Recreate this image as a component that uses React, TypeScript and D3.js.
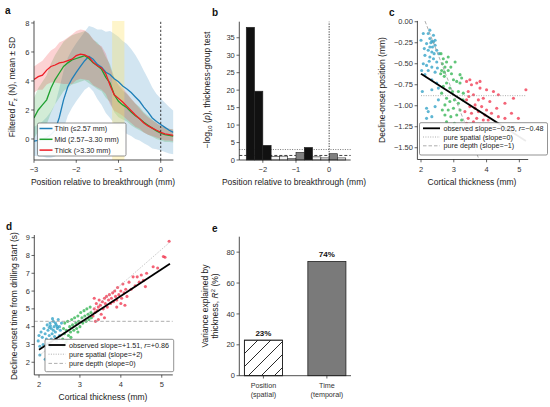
import React from 'react';
import * as d3 from 'd3';

const W = 550, H = 407;
const FONT = "'Liberation Sans', Arial, Helvetica, sans-serif";
const INK = '#222';

// ---------- Panel a: force profiles ----------
const posGrid = [-3.0,-2.9,-2.8,-2.7,-2.6,-2.5,-2.4,-2.3,-2.2,-2.1,-2.0,-1.9,-1.8,-1.7,-1.6,-1.5,-1.4,-1.3,-1.2,-1.1,-1.0,-0.9,-0.8,-0.7,-0.6,-0.5,-0.4,-0.3,-0.2,-0.1,0.0,0.1,0.2,0.3];
const thinMean = [-0.15,-0.1,0.0,0.1,0.3,0.6,1.5,2.7,3.6,4.15,4.6,5.0,5.4,5.7,5.5,5.15,4.95,4.6,4.45,4.15,3.95,3.65,3.45,3.2,2.9,2.6,2.2,1.85,1.45,1.2,1.0,0.8,0.6,0.45];
const thinSD = [1.0,1.1,1.2,1.4,1.6,1.8,2.0,2.0,2.0,2.0,2.0,2.0,2.0,2.1,2.2,2.4,2.6,2.8,3.0,3.1,3.1,3.1,3.1,3.0,2.9,2.7,2.5,2.3,2.1,1.9,1.8,1.7,1.6,1.5];
const midMean = [1.45,2.0,2.35,2.7,3.5,4.1,4.55,5.0,5.25,5.45,5.55,5.65,5.75,5.55,5.25,5.05,4.8,4.25,3.85,3.05,2.6,2.35,2.15,1.85,1.6,1.4,1.15,0.95,0.75,0.55,0.4,0.3,0.25,0.2];
const midSD = [1.4,1.5,1.6,1.7,1.7,1.7,1.7,1.7,1.7,1.7,1.7,1.7,1.7,1.7,1.6,1.6,1.5,1.4,1.3,1.2,1.1,1.0,0.95,0.9,0.85,0.8,0.7,0.65,0.6,0.55,0.5,0.5,0.45,0.45];
const thickMean = [4.1,4.3,4.4,4.75,5.0,5.1,5.25,5.3,5.4,5.5,5.75,5.85,5.8,5.65,5.3,5.05,4.9,4.5,3.7,3.05,2.8,2.55,2.25,1.95,1.65,1.4,1.1,0.9,0.75,0.6,0.45,0.35,0.3,0.25];
const thickSD = [0.9,0.9,1.0,1.0,1.1,1.2,1.4,1.5,1.6,1.7,1.7,1.7,1.7,1.6,1.6,1.5,1.5,1.4,1.3,1.1,1.0,0.95,0.9,0.85,0.8,0.7,0.65,0.6,0.55,0.5,0.45,0.45,0.4,0.4];
const groupNames = ['Thin (≤2.57 mm)', 'Mid (2.57–3.30 mm)', 'Thick (>3.30 mm)'];
const lineColors = ['#1f7fb8', '#1fa030', '#ee1c25'];
const dotColors = ['#2a9dc4', '#2bb24c', '#f0304a'];
const spanA = [-1.15, -0.86];

// ---------- Panel b: p-values per bin ----------
const binLeft = [-2.5,-2.25,-2.0,-1.75,-1.5,-1.25,-1.0,-0.75,-0.5,-0.25,0.0,0.25];
const binWidth = 0.25;
const negLogP = [38, 19.7, 4.2, 0.95, 1.1, 0.4, 2.2, 3.6, 0.9, 0.6, 1.8, 0.6];
const pThresholds = [1.3, 3.0];

// ---------- Panel c: decline-onset position vs thickness ----------
const cThin = [[2.0,-0.22],[2.07,-0.14],[2.22,-0.14],[2.27,-0.2],[2.33,-0.23],[2.38,-0.24],[2.17,-0.26],[2.43,-0.28],[2.1,-0.32],[2.22,-0.34],[2.33,-0.36],[2.48,-0.34],[2.12,-0.4],[2.27,-0.42],[2.38,-0.44],[2.48,-0.48],[2.07,-0.5],[2.17,-0.52],[2.33,-0.54],[2.02,-0.58],[2.22,-0.58],[2.43,-0.6],[2.12,-0.63],[2.33,-0.69],[2.48,-0.73],[2.04,-0.83],[2.33,-0.81],[2.53,-0.79],[2.17,-1.03],[2.22,-1.07],[2.33,-1.13],[2.17,-1.15],[2.43,-1.01],[2.53,-0.93],[2.27,-0.3],[2.55,-0.38],[2.38,-0.16],[2.43,-0.22],[2.27,-0.1],[2.3,-0.25],[2.35,-0.3],[2.25,-0.47],[2.4,-0.38],[2.5,-0.55]];
const cMid = [[2.61,-0.38],[2.68,-0.44],[2.65,-0.5],[2.73,-0.54],[2.78,-0.48],[2.63,-0.58],[2.71,-0.6],[2.83,-0.58],[2.93,-0.62],[3.04,-0.48],[2.99,-0.69],[3.09,-0.71],[3.19,-0.73],[3.24,-0.67],[2.78,-0.73],[2.68,-0.77],[2.88,-0.79],[2.96,-0.83],[3.14,-0.83],[3.29,-0.85],[2.63,-0.85],[2.78,-0.91],[2.88,-0.95],[3.02,-0.93],[3.14,-0.97],[2.73,-0.99],[2.65,-1.05],[2.83,-1.05],[2.99,-1.03],[3.19,-1.05],[2.73,-1.11],[2.91,-1.13],[3.09,-1.11],[2.78,-1.19],[3.02,-1.21],[3.24,-1.17],[2.86,-1.25],[3.09,-1.27],[2.71,-0.65],[2.83,-0.42],[2.91,-0.54],[3.19,-0.63],[3.28,-0.93],[2.6,-0.62],[2.95,-1.3],[3.2,-1.35]];
const cThick = [[3.39,-0.71],[3.49,-0.69],[3.54,-0.75],[3.7,-0.73],[3.8,-0.79],[4.0,-0.81],[4.21,-0.83],[4.36,-0.87],[4.82,-0.91],[5.2,-0.81],[3.44,-0.83],[3.6,-0.87],[3.39,-0.93],[3.75,-0.93],[3.9,-0.91],[4.1,-0.95],[4.56,-0.97],[3.49,-1.01],[3.65,-0.99],[3.85,-1.01],[4.0,-1.05],[4.31,-1.03],[3.34,-1.07],[3.54,-1.09],[3.75,-1.07],[3.95,-1.11],[4.15,-1.09],[3.44,-1.15],[3.7,-1.15],[3.9,-1.17],[3.39,-1.21],[3.6,-1.19],[3.8,-1.23],[3.65,-1.03],[3.46,-0.89],[3.8,-0.71],[4.05,-1.17],[4.56,-1.15],[4.76,-1.09],[4.97,-1.15],[4.36,-1.13],[3.65,-1.29]];
const cObserved = { x0: 2.0, y0: -0.62, slope: -0.25 };
const cMeanY = -0.88;
const cDepth = { x0: 2.13, y0: 0.0, slope: -1 };
const cLegend = ['observed slope=−0.25, ', 'pure spatial (slope=0)', 'pure depth (slope=−1)'];

// ---------- Panel d: decline-onset time vs thickness ----------
const dThin = [[2.0,3.5],[1.98,3.2],[2.02,2.9],[2.05,3.7],[2.08,3.4],[2.1,3.0],[2.12,3.9],[2.15,3.6],[2.18,3.3],[2.2,4.1],[2.22,3.8],[2.25,3.5],[2.27,4.2],[2.3,3.9],[2.32,3.6],[2.35,4.3],[2.37,4.0],[2.4,3.7],[2.42,4.1],[2.45,3.9],[2.47,4.4],[2.5,4.0],[2.52,3.8],[2.55,4.2],[2.3,3.3],[2.38,3.45],[2.2,3.1],[2.15,2.17],[2.02,2.41],[2.27,2.88],[2.43,3.2],[2.5,3.5],[2.33,4.45],[2.4,4.2],[2.45,4.0],[2.28,4.05],[2.35,3.8],[2.25,3.95]];
const dMid = [[2.58,3.3],[2.6,3.9],[2.62,3.6],[2.63,4.2],[2.65,3.1],[2.67,3.8],[2.7,4.3],[2.72,3.5],[2.75,4.0],[2.77,3.7],[2.8,4.4],[2.82,4.1],[2.85,3.8],[2.87,4.5],[2.9,4.2],[2.92,3.9],[2.95,4.6],[2.97,4.3],[3.0,4.0],[3.02,4.8],[3.05,4.5],[3.07,4.2],[3.1,4.9],[3.12,4.6],[3.15,4.3],[3.17,5.0],[3.2,4.7],[3.22,4.4],[3.25,5.1],[3.27,4.8],[3.28,4.5],[2.68,3.2],[2.6,2.9],[2.78,3.4],[2.95,3.7]];
const dThick = [[3.32,4.6],[3.35,5.0],[3.37,4.8],[3.4,5.3],[3.42,4.9],[3.45,5.1],[3.47,5.5],[3.5,5.2],[3.52,4.7],[3.55,5.4],[3.57,5.0],[3.6,5.6],[3.62,5.3],[3.65,5.7],[3.67,5.1],[3.7,5.5],[3.72,5.8],[3.75,5.3],[3.77,5.6],[3.8,5.9],[3.82,5.4],[3.85,6.0],[3.87,5.7],[3.9,5.5],[3.92,6.2],[3.95,5.8],[4.0,6.0],[4.02,5.6],[4.05,6.4],[4.08,5.9],[4.1,5.2],[4.12,6.1],[4.15,5.7],[4.2,6.5],[4.25,6.1],[4.3,6.8],[4.35,6.3],[4.4,6.8],[4.45,6.5],[4.5,6.9],[4.55,6.6],[4.6,6.25],[4.63,7.0],[4.79,7.37],[4.9,7.3],[5.04,7.94],[5.08,7.9],[5.18,8.8],[3.45,4.4],[3.6,4.5],[3.38,4.3],[3.35,5.6],[3.9,5.1],[4.0,5.3]];
const dObserved = { x0: 2.0, y0: 2.7, slope: 1.51 };
const dSpatial = { x0: 5.2, y0: 8.75, slope: 2 };
const dMeanY = 4.3;
const dLegend = ['observed slope=+1.51, ', 'pure spatial (slope=+2)', 'pure depth (slope=0)'];
const cR = '−0.48';
const dR = '+0.86';

// ---------- Panel e: variance explained ----------
const r2Cats = [['Position', '(spatial)'], ['Time', '(temporal)']];
const r2Values = [23, 74];

const fmt = (v: number, dec = 0) => (v < 0 ? '−' : '') + Math.abs(v).toFixed(dec);

type Scale = d3.ScaleLinear<number, number>;
const TICK_FS = 7.5;

function Axes({ x, y, xTicks, yTicks, xDec = 0, yDec = 0 }: { x: Scale; y: Scale; xTicks: number[]; yTicks: number[]; xDec?: number; yDec?: number }) {
  const [x0, x1] = x.range();
  const [y0, y1] = y.range();
  return (
    <g stroke={INK} fontSize={TICK_FS} fontFamily={FONT}>
      <line x1={x0} x2={x0} y1={y0} y2={y1} strokeWidth={0.8} />
      <line x1={x0} x2={x1} y1={y0} y2={y0} strokeWidth={0.8} />
      {yTicks.map((t) => (
        <g key={'y' + t}>
          <line x1={x0 - 2.8} x2={x0} y1={y(t)} y2={y(t)} strokeWidth={0.7} />
          <text x={x0 - 4.5} y={y(t)} dy="0.35em" textAnchor="end" stroke="none" fill="#333">{fmt(t, yDec)}</text>
        </g>
      ))}
      {xTicks.map((t) => (
        <g key={'x' + t}>
          <line x1={x(t)} x2={x(t)} y1={y0} y2={y0 + 2.8} strokeWidth={0.7} />
          <text x={x(t)} y={y0 + 12.3} textAnchor="middle" stroke="none" fill="#333">{fmt(t, xDec)}</text>
        </g>
      ))}
    </g>
  );
}

function RotLabel({ cx, cy, children, size = 8.5 }: { cx: number; cy: number; children: React.ReactNode; size?: number }) {
  return (
    <text transform={`translate(${cx + size * 0.35},${cy}) rotate(-90)`} textAnchor="middle" fontSize={size} fontFamily={FONT} fill="#222">{children}</text>
  );
}

function PanelLetter({ x, y, t }: { x: number; y: number; t: string }) {
  return <text x={x} y={y} fontSize={10} fontWeight="bold" fontFamily={FONT} fill="#111">{t}</text>;
}

function PanelA() {
  const x = d3.scaleLinear().domain([-3, 0.3]).range([34, 173.4]);
  const y = d3.scaleLinear().domain([-1.45, 8.15]).range([160, 20.8]);
  const means = [thinMean, midMean, thickMean];
  const sds = [thinSD, midSD, thickSD];
  const area = (m: number[], s: number[]) =>
    d3.area<number>().x((_, i) => x(posGrid[i])).y0((_, i) => y(m[i] - s[i])).y1((_, i) => y(m[i] + s[i]))(m) || '';
  const line = (m: number[]) => d3.line<number>().x((_, i) => x(posGrid[i])).y((v) => y(v))(m) || '';
  const [xl, xr] = x.range();
  const [yb, yt] = y.range();
  return (
    <g>
      <defs>
        <clipPath id="clipA"><rect x={xl} y={yt} width={xr - xl} height={yb - yt} /></clipPath>
      </defs>
      <g clipPath="url(#clipA)">
        {means.map((m, i) => (
          <path key={'b' + i} d={area(m, sds[i])} fill={lineColors[i]} fillOpacity={0.2} stroke="none" />
        ))}
        <rect x={x(spanA[0])} y={yt} width={x(spanA[1]) - x(spanA[0])} height={yb - yt} fill="#fbe36a" fillOpacity={0.35} />
        {means.map((m, i) => (
          <path key={'l' + i} d={line(m)} fill="none" stroke={lineColors[i]} strokeWidth={1.3} />
        ))}
      </g>
      <line x1={x(0)} x2={x(0)} y1={yb} y2={yt} stroke="#111" strokeWidth={0.8} strokeDasharray="2.2,1.8" />
      <Axes x={x} y={y} xTicks={[-3, -2, -1, 0]} yTicks={[0, 2, 4, 6, 8]} />
      <g fontFamily={FONT} fontSize={7.2}>
        <rect x={37.5} y={123} width={88.5} height={33} fill="#fff" fillOpacity={0.92} stroke="#666" strokeWidth={0.7} rx={1.5} />
        {groupNames.map((n, i) => (
          <g key={n}>
            <line x1={39.5} x2={52.5} y1={128.5 + i * 10.8} y2={128.5 + i * 10.8} stroke={lineColors[i]} strokeWidth={1.5} />
            <text x={54.5} y={128.5 + i * 10.8} dy="0.35em" fill="#222">{n}</text>
          </g>
        ))}
      </g>
      <RotLabel cx={12.5} cy={87}>
        Filtered <tspan fontStyle="italic">F</tspan><tspan fontSize={6} dy={2}>z</tspan><tspan dy={-2}> (N), mean ± SD</tspan>
      </RotLabel>
      <text x={103} y={185} textAnchor="middle" fontSize={8.5} fontFamily={FONT} fill="#222">Position relative to breakthrough (mm)</text>
      <PanelLetter x={5} y={14} t="a" />
    </g>
  );
}

function PanelB() {
  const x = d3.scaleLinear().domain([-2.71, 0.65]).range([239.3, 350.7]);
  const y = d3.scaleLinear().domain([0, 39.6]).range([160, 21.7]);
  const [xl, xr] = x.range();
  const [yb, yt] = y.range();
  const barFill = (v: number) => (v > pThresholds[1] ? '#111' : v > pThresholds[0] ? '#808080' : '#f2f2f2');
  return (
    <g>
      <line x1={xl} x2={xr} y1={y(pThresholds[1])} y2={y(pThresholds[1])} stroke="#555" strokeWidth={0.8} strokeDasharray="1,1.4" />
      <line x1={xl} x2={xr} y1={y(pThresholds[0])} y2={y(pThresholds[0])} stroke="#111" strokeWidth={0.8} strokeDasharray="3,2" />
      {binLeft.map((b, i) => (
        <rect key={i} x={x(b)} y={y(negLogP[i])} width={x(b + binWidth) - x(b)} height={yb - y(negLogP[i])} fill={barFill(negLogP[i])} stroke="#222" strokeWidth={0.6} />
      ))}
      <line x1={x(0)} x2={x(0)} y1={yb} y2={yt} stroke="#111" strokeWidth={0.8} strokeDasharray="1.3,1.3" />
      <Axes x={x} y={y} xTicks={[-2, -1, 0]} yTicks={[0, 5, 10, 15, 20, 25, 30, 35]} />
      <RotLabel cx={206.7} cy={90}>
        −log<tspan fontSize={6} dy={2}>10</tspan><tspan dy={-2}> (</tspan><tspan fontStyle="italic">p</tspan>), thickness-group test
      </RotLabel>
      <text x={294} y={185} textAnchor="middle" fontSize={8.5} fontFamily={FONT} fill="#222">Position relative to breakthrough (mm)</text>
      <PanelLetter x={212} y={16} t="b" />
    </g>
  );
}

function Scatter({ x, y, groups, clip }: { x: Scale; y: Scale; groups: number[][][]; clip: string }) {
  return (
    <g clipPath={`url(#${clip})`}>
      {groups.map((g, gi) =>
        g.map((p, i) => <circle key={gi + '-' + i} cx={x(p[0])} cy={y(p[1])} r={1.55} fill={dotColors[gi]} fillOpacity={0.75} />)
      )}
    </g>
  );
}

function RefLegend({ x0, y0, w, h, rows, labels, r }: { x0: number; y0: number; w: number; h: number; rows: number[]; labels: string[]; r: string }) {
  return (
    <g fontFamily={FONT} fontSize={7.2} fill="#222">
      <rect x={x0} y={y0} width={w} height={h} fill="#fff" fillOpacity={0.92} stroke="#666" strokeWidth={0.7} rx={1.5} />
      <line x1={x0 + 3.5} x2={x0 + 20.5} y1={rows[0]} y2={rows[0]} stroke="#000" strokeWidth={1.8} />
      <line x1={x0 + 3.5} x2={x0 + 20.5} y1={rows[1]} y2={rows[1]} stroke="#999" strokeWidth={0.8} strokeDasharray="1,1.4" />
      <line x1={x0 + 3.5} x2={x0 + 20.5} y1={rows[2]} y2={rows[2]} stroke="#999" strokeWidth={0.8} strokeDasharray="3.5,2" />
      <text x={x0 + 24} y={rows[0]} dy="0.35em">{labels[0]}<tspan fontStyle="italic">r</tspan>={r}</text>
      <text x={x0 + 24} y={rows[1]} dy="0.35em">{labels[1]}</text>
      <text x={x0 + 24} y={rows[2]} dy="0.35em">{labels[2]}</text>
    </g>
  );
}

function PanelC() {
  const x = d3.scaleLinear().domain([1.89, 5.27]).range([417.4, 528.2]);
  const y = d3.scaleLinear().domain([-1.64, 0.01]).range([159.5, 20.9]);
  const [xl, xr] = x.range();
  const [yb, yt] = y.range();
  const lineY = (o: { x0: number; y0: number; slope: number }, xv: number) => o.y0 + o.slope * (xv - o.x0);
  return (
    <g>
      <defs>
        <clipPath id="clipC"><rect x={xl} y={yt} width={xr - xl} height={yb - yt} /></clipPath>
      </defs>
      <Scatter x={x} y={y} groups={[cThin, cMid, cThick]} clip="clipC" />
      <g clipPath="url(#clipC)">
        <line x1={x(2.0)} x2={x(5.22)} y1={y(cMeanY)} y2={y(cMeanY)} stroke="#999" strokeWidth={0.8} strokeDasharray="1,1.4" />
        <line x1={x(2.0)} x2={x(5.22)} y1={y(lineY(cDepth, 2.0))} y2={y(lineY(cDepth, 5.22))} stroke="#999" strokeWidth={0.8} strokeDasharray="3.5,2" />
        <line x1={x(2.0)} x2={x(5.2)} y1={y(lineY(cObserved, 2.0))} y2={y(lineY(cObserved, 5.2))} stroke="#000" strokeWidth={1.8} />
      </g>
      <Axes x={x} y={y} xTicks={[2, 3, 4, 5]} yTicks={[0, -0.25, -0.5, -0.75, -1.0, -1.25, -1.5]} yDec={2} />
      <RefLegend x0={419.5} y0={122.7} w={128} h={32.3} rows={[128.3, 137, 145.8]} labels={cLegend} r={cR} />
      <RotLabel cx={381.7} cy={90}>Decline-onset position (mm)</RotLabel>
      <text x={472} y={185} textAnchor="middle" fontSize={8.5} fontFamily={FONT} fill="#222">Cortical thickness (mm)</text>
      <PanelLetter x={389} y={16} t="c" />
    </g>
  );
}

function PanelD() {
  const x = d3.scaleLinear().domain([1.885, 5.27]).range([34.3, 172.8]);
  const y = d3.scaleLinear().domain([1.29, 9.15]).range([374.9, 235]);
  const [xl, xr] = x.range();
  const [yb, yt] = y.range();
  const lineY = (o: { x0: number; y0: number; slope: number }, xv: number) => o.y0 + o.slope * (xv - o.x0);
  return (
    <g>
      <defs>
        <clipPath id="clipD"><rect x={xl} y={yt} width={xr - xl} height={yb - yt} /></clipPath>
      </defs>
      <Scatter x={x} y={y} groups={[dThin, dMid, dThick]} clip="clipD" />
      <g clipPath="url(#clipD)">
        <line x1={xl} x2={xr} y1={y(dMeanY)} y2={y(dMeanY)} stroke="#999" strokeWidth={0.8} strokeDasharray="3.5,2" />
        <line x1={x(2.0)} x2={x(5.2)} y1={y(lineY(dSpatial, 2.0))} y2={y(lineY(dSpatial, 5.2))} stroke="#aaa" strokeWidth={0.8} strokeDasharray="1,1.4" />
        <line x1={x(2.0)} x2={x(5.2)} y1={y(lineY(dObserved, 2.0))} y2={y(lineY(dObserved, 5.2))} stroke="#000" strokeWidth={1.8} />
      </g>
      <Axes x={x} y={y} xTicks={[2, 3, 4, 5]} yTicks={[2, 3, 4, 5, 6, 7, 8, 9]} />
      <RefLegend x0={45} y0={339.3} w={128.7} h={32.4} rows={[345, 354.2, 363.4]} labels={dLegend} r={dR} />
      <RotLabel cx={14} cy={306}>Decline-onset time from drilling start (s)</RotLabel>
      <text x={103} y={400} textAnchor="middle" fontSize={8.5} fontFamily={FONT} fill="#222">Cortical thickness (mm)</text>
      <PanelLetter x={6} y={230} t="d" />
    </g>
  );
}

function PanelE() {
  const x = d3.scaleLinear().domain([-0.38, 1.38]).range([239.3, 351]);
  const y = d3.scaleLinear().domain([0, 90]).range([375.7, 236.7]);
  const [xl, xr] = x.range();
  const [yb, yt] = y.range();
  const bw = 0.6;
  return (
    <g>
      <defs>
        <pattern id="hatchE" patternUnits="userSpaceOnUse" width={13} height={13}>
          <path d="M-3,3 L3,-3 M0,13 L13,0 M10,16 L16,10" stroke="#111" strokeWidth={0.9} />
        </pattern>
      </defs>
      {r2Values.map((v, i) => (
        <g key={i}>
          <rect x={x(i - bw / 2)} y={y(v)} width={x(i + bw / 2) - x(i - bw / 2)} height={yb - y(v)} fill={i === 0 ? '#fff' : '#7a7a7a'} stroke="#222" strokeWidth={0.8} />
          {i === 0 && <rect x={x(i - bw / 2)} y={y(v)} width={x(i + bw / 2) - x(i - bw / 2)} height={yb - y(v)} fill="url(#hatchE)" stroke="#222" strokeWidth={0.8} />}
          <text x={x(i)} y={y(v) - 4.5} textAnchor="middle" fontSize={8} fontWeight="bold" fontFamily={FONT} fill="#111">{v}%</text>
        </g>
      ))}
      <g stroke={INK} fontSize={TICK_FS} fontFamily={FONT}>
        <line x1={xl} x2={xl} y1={yb} y2={yt} strokeWidth={0.8} />
        <line x1={xl} x2={xr} y1={yb} y2={yb} strokeWidth={0.8} />
        {[0, 20, 40, 60, 80].map((t) => (
          <g key={t}>
            <line x1={xl - 2.8} x2={xl} y1={y(t)} y2={y(t)} strokeWidth={0.7} />
            <text x={xl - 4.5} y={y(t)} dy="0.35em" textAnchor="end" stroke="none" fill="#333">{t}</text>
          </g>
        ))}
        {r2Cats.map((c, i) => (
          <g key={i}>
            <line x1={x(i)} x2={x(i)} y1={yb} y2={yb + 2.8} strokeWidth={0.7} />
            <text x={x(i)} y={yb + 12} textAnchor="middle" stroke="none" fill="#333" fontSize={7.2}>{c[0]}</text>
            <text x={x(i)} y={yb + 21.3} textAnchor="middle" stroke="none" fill="#333" fontSize={7.2}>{c[1]}</text>
          </g>
        ))}
      </g>
      <RotLabel cx={205} cy={306}>Variance explained by</RotLabel>
      <RotLabel cx={215.5} cy={306}>thickness, <tspan fontStyle="italic">R</tspan><tspan fontSize={6} dy={-3}>2</tspan><tspan dy={3}> (%)</tspan></RotLabel>
      <PanelLetter x={212} y={232} t="e" />
    </g>
  );
}

export default function App() {
  return (
    <div style={{ position: 'absolute', left: 0, top: 0, width: W, height: H, background: '#fff' }}>
      <svg width={W} height={H} viewBox={`0 0 ${W} ${H}`} style={{ display: 'block' }} fontFamily={FONT}>
        <rect width={W} height={H} fill="#fff" />
        <PanelA />
        <PanelB />
        <PanelC />
        <PanelD />
        <PanelE />
      </svg>
    </div>
  );
}
